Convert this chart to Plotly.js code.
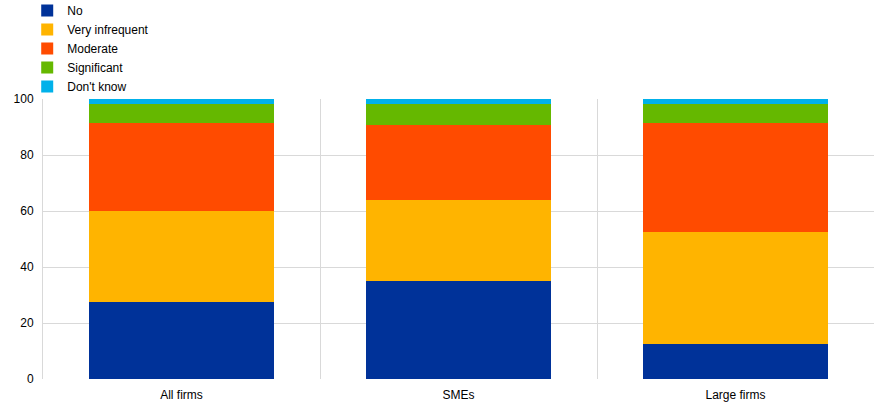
<!DOCTYPE html>
<html><head><meta charset="utf-8">
<script src="https://cdn.plot.ly/plotly-3.0.1.min.js"></script>
<style>html,body{margin:0;padding:0;background:#fff}#c{width:874px;height:405px}</style>
</head><body><div id="c"></div>
<script>
const categories = ["All firms", "SMEs", "Large firms"];
const seriesNames = ["No", "Very infrequent", "Moderate", "Significant", "Don't know"];
const no = [27.4, 35.1, 12.6];
const veryInfrequent = [32.7, 28.9, 40.0];
const moderate = [31.2, 26.8, 38.8];
const significant = [7.0, 7.5, 6.9];
const dontKnow = [1.7, 1.7, 1.7];
const yTicks = [0, 20, 40, 60, 80, 100];
const colors = ["#003299", "#ffb400", "#ff4b00", "#65b800", "#00b1ea"];
const values = [no, veryInfrequent, moderate, significant, dontKnow];

const data = values.map((v, i) => ({
  type: "bar", x: categories, y: v, name: seriesNames[i],
  marker: {color: colors[i], line: {width: 0}}, hoverinfo: "y+name"
}));

const layout = {
  width: 874, height: 405,
  margin: {l: 43, r: 0, t: 99, b: 26, autoexpand: false},
  barmode: "stack", bargap: 0.335,
  paper_bgcolor: "#fff", plot_bgcolor: "#fff",
  font: {family: "'Liberation Sans', Arial, sans-serif", size: 12, color: "#000"},
  showlegend: true,
  legend: {xref: "paper", yref: "paper", x: -0.019, y: 1.368, xanchor: "left", yanchor: "top",
    traceorder: "normal", orientation: "v", font: {size: 12}, tracegroupgap: 0, bgcolor: "rgba(0,0,0,0)",
    itemwidth: 30},
  xaxis: {type: "category", tickson: "boundaries", showgrid: true, gridcolor: "#d9d9d9", gridwidth: 1,
    ticks: "", showline: false, zeroline: false, tickfont: {size: 12}, ticklabelstandoff: 7},
  yaxis: {range: [0, 100], tickvals: yTicks, ticktext: yTicks.map(String), showgrid: true, gridcolor: "#d9d9d9",
    showline: true, linecolor: "#d9d9d9", zeroline: false, ticks: "", ticklen: 0, tickfont: {size: 12},
    ticklabelstandoff: 6}
};
Plotly.newPlot("c", data, layout, {displayModeBar: false, staticPlot: true});
</script></body></html>
